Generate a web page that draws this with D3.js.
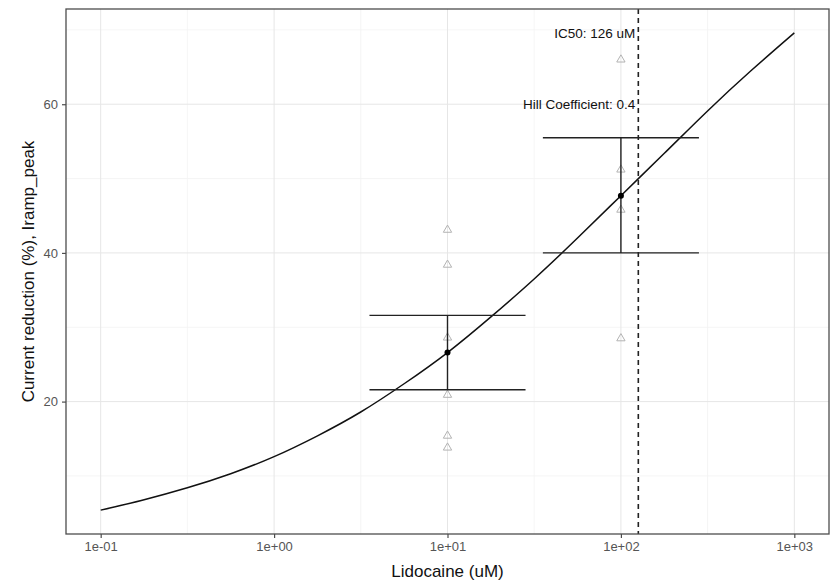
<!DOCTYPE html>
<html>
<head>
<meta charset="utf-8">
<script src="https://cdn.jsdelivr.net/npm/d3@7"></script>
<style>
  body { margin: 0; background: #fff; }
  text { font-family: "Liberation Sans", Arial, sans-serif; }
</style>
</head>
<body>
<div class="chart"></div>
<script>
// dose-response chart, lidocaine on Iramp_peak

WIDTH = 834
HEIGHT = 582
MARGIN = {top: 9, right: 5, bottom: 48, left: 66}

// fitted curve (dose in uM, reduction in %)
var curveDose = [0.1, 0.178, 0.316, 0.562, 1, 1.78, 3.16, 5.62, 10, 17.8, 31.6, 56.2, 100, 178, 316, 562, 1000];
var curveValue = [5.4, 6.8, 8.4, 10.3, 12.6, 15.4, 18.6, 22.4, 26.6, 31.4, 36.5, 42.0, 47.7, 53.4, 59.1, 64.5, 69.6];

// single cells
var cellDose = [10, 10, 10, 10, 10, 10, 100, 100, 100, 100];
var cellValue = [43.1, 38.4, 28.6, 20.9, 15.4, 13.8, 66.0, 51.2, 45.8, 28.5];

// mean and error bar per concentration
var meanDose = [10, 100];
var meanValue = [26.6, 47.7];
var errLow = [21.6, 40.0];
var errHigh = [31.6, 55.5];

var IC50 = 126;
var HILL = 0.4;

var xTicks = [0.1, 1, 10, 100, 1000];
var xTickLabels = ["1e-01", "1e+00", "1e+01", "1e+02", "1e+03"];
var xMinor = [0.316, 3.16, 31.6, 316];
var yTicks = [20, 40, 60];
var yMinor = [10, 30, 50, 70];

var plotW = WIDTH - MARGIN.left - MARGIN.right;
var plotH = HEIGHT - MARGIN.top - MARGIN.bottom;

// log x range with ggplot style 5% padding
var lx = [Math.log10(d3.min(curveDose)), Math.log10(d3.max(curveDose))];
var padX = (lx[1] - lx[0]) * 0.05;
var x = d3.scaleLog()
    .domain([Math.pow(10, lx[0] - padX), Math.pow(10, lx[1] + padX)])
    .range([0, plotW]);

var yAll = curveValue.concat(cellValue, errLow, errHigh);
var yExt = d3.extent(yAll);
var padY = (yExt[1] - yExt[0]) * 0.05;
var y = d3.scaleLinear()
    .domain([yExt[0] - padY, yExt[1] + padY])
    .range([plotH, 0]);

var svg = d3.select(".chart").append("svg")
    .attr("width", WIDTH)
    .attr("height", HEIGHT);

var g = svg.append("g")
    .attr("transform", "translate(" + MARGIN.left + "," + MARGIN.top + ")");

// grid
g.selectAll(".ygrid-minor").data(yMinor).enter().append("line")
    .attr("x1", 0).attr("x2", plotW)
    .attr("y1", function(d) { return y(d); })
    .attr("y2", function(d) { return y(d); })
    .style("stroke", "#f2f2f2").style("stroke-width", "0.8px");
g.selectAll(".xgrid-minor").data(xMinor).enter().append("line")
    .attr("y1", 0).attr("y2", plotH)
    .attr("x1", function(d) { return x(d); })
    .attr("x2", function(d) { return x(d); })
    .style("stroke", "#f2f2f2").style("stroke-width", "0.8px");
g.selectAll(".ygrid").data(yTicks).enter().append("line")
    .attr("x1", 0).attr("x2", plotW)
    .attr("y1", function(d) { return y(d); })
    .attr("y2", function(d) { return y(d); })
    .style("stroke", "#e6e6e6").style("stroke-width", "1px");
g.selectAll(".xgrid").data(xTicks).enter().append("line")
    .attr("y1", 0).attr("y2", plotH)
    .attr("x1", function(d) { return x(d); })
    .attr("x2", function(d) { return x(d); })
    .style("stroke", "#e6e6e6").style("stroke-width", "1px");

// cells
g.selectAll(".cell").data(cellDose).enter().append("path")
    .attr("d", d3.symbol().type(d3.symbolTriangle).size(30))
    .attr("transform", function(d, i) { return "translate(" + x(d) + "," + y(cellValue[i]) + ")"; })
    .style("fill", "none")
    .style("stroke", "#b3b3b3")
    .style("stroke-width", "1px");

// fitted curve
var line = d3.line()
    .x(function(d, i) { return x(d); })
    .y(function(d, i) { return y(curveValue[i]); })
    .curve(d3.curveNatural);

g.append("path")
    .datum(curveDose)
    .attr("d", line)
    .style("fill", "none")
    .style("stroke", "#111")
    .style("stroke-width", "1.5px");

// error bars, 0.9 decades wide
var half = 0.45;
meanDose.forEach(function(d, i) {
    var xl = x(d / Math.pow(10, half));
    var xr = x(d * Math.pow(10, half));
    [errLow[i], errHigh[i]].forEach(function(v) {
        g.append("line")
            .attr("x1", xl).attr("x2", xr)
            .attr("y1", y(v)).attr("y2", y(v))
            .style("stroke", "#222").style("stroke-width", "1.4px");
    });
    g.append("line")
        .attr("x1", x(d)).attr("x2", x(d))
        .attr("y1", y(errLow[i])).attr("y2", y(errHigh[i]))
        .style("stroke", "#222").style("stroke-width", "1.4px");
});

g.selectAll(".mean").data(meanDose).enter().append("circle")
    .attr("cx", function(d) { return x(d); })
    .attr("cy", function(d, i) { return y(meanValue[i]); })
    .attr("r", 3)
    .style("fill", "#000");

// IC50 marker
g.append("line")
    .attr("x1", x(IC50)).attr("x2", x(IC50))
    .attr("y1", 0).attr("y2", plotH)
    .style("stroke", "#222")
    .style("stroke-width", "1.6px")
    .style("stroke-dasharray", "5,4");

g.append("text")
    .attr("x", x(IC50) - 3)
    .attr("y", y(d3.max(curveValue)))
    .attr("dy", "0.35em")
    .attr("text-anchor", "end")
    .style("font-size", "13.5px")
    .style("fill", "#111")
    .text("IC50: " + IC50 + " uM");

g.append("text")
    .attr("x", x(IC50) - 3)
    .attr("y", y(60))
    .attr("dy", "0.35em")
    .attr("text-anchor", "end")
    .style("font-size", "13.5px")
    .style("fill", "#111")
    .text("Hill Coefficient: " + HILL);

// panel border
g.append("rect")
    .attr("width", plotW).attr("height", plotH)
    .style("fill", "none")
    .style("stroke", "#4d4d4d")
    .style("stroke-width", "1.3px");

// axes
var xAxis = d3.axisBottom(x)
    .tickValues(xTicks)
    .tickFormat(function(d, i) { return xTickLabels[i]; })
    .tickSize(4).tickPadding(4);
var yAxis = d3.axisLeft(y)
    .tickValues(yTicks)
    .tickSize(4).tickPadding(4);

var gx = g.append("g").attr("transform", "translate(0," + plotH + ")").call(xAxis);
var gy = g.append("g").call(yAxis);
[gx, gy].forEach(function(a) {
    a.select(".domain").remove();
    a.selectAll(".tick line").style("stroke", "#4d4d4d").style("stroke-width", "1.2px");
    a.selectAll(".tick text")
        .style("font-size", "13px")
        .style("fill", "#555")
        .style("font-family", "'Liberation Sans', Arial, sans-serif");
});

svg.append("text")
    .attr("x", MARGIN.left + plotW / 2)
    .attr("y", 577)
    .attr("text-anchor", "middle")
    .style("font-size", "17px")
    .style("fill", "#111")
    .text("Lidocaine (uM)");

svg.append("text")
    .attr("transform", "translate(34," + (MARGIN.top + plotH / 2) + ") rotate(-90)")
    .attr("text-anchor", "middle")
    .style("font-size", "17px")
    .style("fill", "#111")
    .text("Current reduction (%), Iramp_peak");
</script>
</body>
</html>
